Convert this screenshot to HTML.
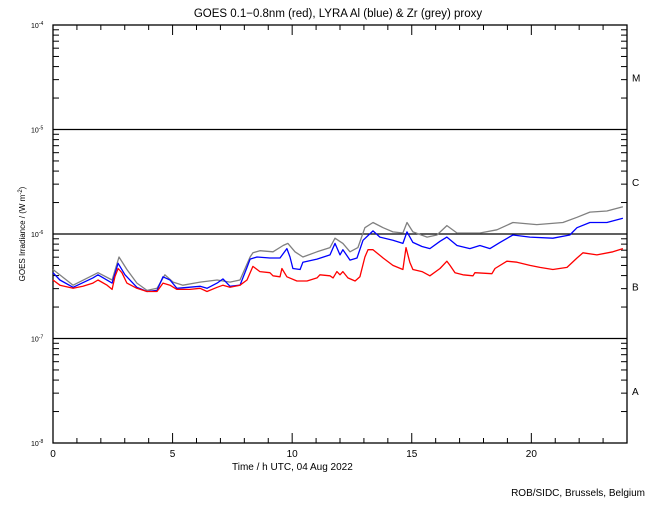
<!DOCTYPE html>
<html><head><meta charset="utf-8"><style>
body{margin:0;background:#fff}
svg text{font-family:"Liberation Sans",sans-serif;fill:#000}
</style></head><body>
<svg id="chart" width="650" height="500" xmlns="http://www.w3.org/2000/svg">
<text x="338" y="17" font-size="11.5" text-anchor="middle">GOES 0.1−0.8nm (red), LYRA Al (blue) &amp; Zr (grey) proxy</text>
<g id="axes"></g>
<g id="series"></g>
<text x="232" y="470" font-size="10">Time / h UTC, 04 Aug 2022</text>
<text transform="translate(25,234) rotate(-90)" font-size="8" text-anchor="middle">GOES Irradiance / (W m<tspan baseline-shift="super" font-size="6">-2</tspan>)</text>
<text x="645" y="496" font-size="10" text-anchor="end">ROB/SIDC, Brussels, Belgium</text>
</svg>
<script>
const xTicks=[0,5,10,15,20];
const yDecades=[-8,-7,-6,-5,-4];
const classLabels=["A","B","C","M"];
const redT=[0,0.29,0.84,1.25,1.67,1.88,2.26,2.47,2.59,2.72,2.88,3.09,3.51,3.93,4.35,4.60,4.89,5.18,5.73,6.15,6.44,6.86,7.11,7.40,7.82,8.11,8.36,8.65,9.07,9.20,9.49,9.57,9.78,10.20,10.62,11.04,11.16,11.58,11.71,11.87,12.00,12.12,12.33,12.63,12.83,13.04,13.17,13.38,13.80,14.21,14.63,14.76,14.92,15.05,15.43,15.76,16.18,16.47,16.60,16.81,17.14,17.56,17.64,18.35,18.48,18.98,19.40,19.94,20.36,20.90,21.49,21.91,22.16,22.74,23.41,23.83];
const redV=[-6.44,-6.49,-6.52,-6.50,-6.47,-6.44,-6.49,-6.53,-6.41,-6.33,-6.37,-6.47,-6.52,-6.55,-6.55,-6.47,-6.49,-6.53,-6.53,-6.52,-6.55,-6.51,-6.49,-6.51,-6.49,-6.44,-6.31,-6.36,-6.37,-6.40,-6.41,-6.33,-6.41,-6.45,-6.45,-6.42,-6.39,-6.40,-6.42,-6.36,-6.39,-6.36,-6.42,-6.45,-6.41,-6.22,-6.15,-6.15,-6.23,-6.30,-6.34,-6.13,-6.27,-6.34,-6.36,-6.40,-6.33,-6.26,-6.30,-6.37,-6.39,-6.40,-6.37,-6.38,-6.33,-6.26,-6.27,-6.30,-6.32,-6.34,-6.32,-6.23,-6.18,-6.20,-6.17,-6.14];
const blueT=[0,0.29,0.84,1.67,1.88,2.47,2.72,3.01,3.51,3.93,4.35,4.60,4.89,5.18,6.15,6.44,6.86,7.11,7.40,7.82,8.11,8.24,8.53,9.07,9.49,9.78,9.91,10.03,10.33,10.45,11.04,11.58,11.79,12.00,12.12,12.42,12.71,12.96,13.38,13.67,14.21,14.63,14.80,15.05,15.43,15.76,16.18,16.47,16.89,17.43,17.85,18.27,18.69,19.23,19.94,20.90,21.61,21.91,22.45,23.16,23.83];
const blueV=[-6.37,-6.44,-6.51,-6.42,-6.39,-6.47,-6.28,-6.39,-6.51,-6.55,-6.54,-6.41,-6.44,-6.52,-6.50,-6.52,-6.47,-6.43,-6.50,-6.49,-6.32,-6.24,-6.22,-6.23,-6.23,-6.14,-6.22,-6.33,-6.34,-6.27,-6.24,-6.20,-6.09,-6.20,-6.15,-6.25,-6.23,-6.06,-5.97,-6.03,-6.06,-6.09,-5.98,-6.08,-6.12,-6.14,-6.07,-6.03,-6.11,-6.14,-6.11,-6.14,-6.08,-6.01,-6.03,-6.04,-6.01,-5.94,-5.89,-5.89,-5.85];
const greyT=[0,0.84,1.88,2.47,2.76,3.09,3.51,3.93,4.35,4.68,5.02,5.43,6.15,6.86,7.40,7.82,8.24,8.36,8.65,9.20,9.62,9.82,10.12,10.45,11.04,11.58,11.79,12.12,12.42,12.75,13.04,13.38,13.80,14.21,14.63,14.80,15.05,15.64,16.05,16.47,16.89,17.85,18.56,19.23,20.23,21.32,21.91,22.45,23.16,23.83];
const greyV=[-6.34,-6.49,-6.37,-6.44,-6.22,-6.34,-6.47,-6.54,-6.52,-6.39,-6.46,-6.49,-6.46,-6.44,-6.46,-6.44,-6.22,-6.18,-6.16,-6.17,-6.11,-6.09,-6.17,-6.22,-6.17,-6.13,-6.04,-6.09,-6.17,-6.13,-5.94,-5.89,-5.94,-5.98,-5.99,-5.89,-5.98,-6.03,-6.01,-5.92,-5.99,-5.99,-5.96,-5.89,-5.91,-5.89,-5.84,-5.79,-5.78,-5.74];

const X0=53,X1=627,Y4=25,Y8=443;
const xs=h=>X0+(X1-X0)*h/24;
const ys=l=>Y4+(Y8-Y4)*(-4-l)/4;
const NS="http://www.w3.org/2000/svg";
function mk(tag,attrs,parent){const e=document.createElementNS(NS,tag);for(const k in attrs)e.setAttribute(k,attrs[k]);parent.appendChild(e);return e;}
const ax=document.getElementById('axes');
const frame=mk('rect',{x:X0,y:Y4,width:X1-X0,height:Y8-Y4,fill:'none',stroke:'#000','stroke-width':1.3},ax);


for(let h=0;h<=24;h++){
  const len=(h%5===0)?10:5;
  const x=xs(h);
  const t1=mk('line',{x1:x,x2:x,y1:Y8,y2:Y8-len,stroke:'#000'},ax);
  
  
  const t2=mk('line',{x1:x,x2:x,y1:Y4,y2:Y4+len,stroke:'#000'},ax);
  
  
}
xTicks.forEach(h=>{
  const t=mk('text',{x:xs(h),y:457,'font-size':10,'text-anchor':'middle'},ax);
  t.textContent=h;
  
  
});
yDecades.forEach((d,i)=>{
  const y=ys(d);
  const lab=mk('text',{x:31,y:y+3,'font-size':7},ax);
  lab.innerHTML='10<tspan baseline-shift="super" font-size="5">'+d+'</tspan>';
  
  
  if(d>-8&&d<-4){
    const gl=mk('line',{x1:X0,x2:X1,y1:y,y2:y,stroke:'#000','stroke-width':1.3},ax);
    
    
  }
  if(d<-4){
    for(let m=2;m<=9;m++){
      const yy=ys(d+Math.log10(m));
      const a=mk('line',{x1:X0,x2:X0+6,y1:yy,y2:yy,stroke:'#000'},ax);
      
      
      const b=mk('line',{x1:X1,x2:X1-6,y1:yy,y2:yy,stroke:'#000'},ax);
      
      
    }
  }
});
classLabels.forEach((c,i)=>{
  const y=ys(-8+i+0.5);
  const t=mk('text',{x:632,y:y+4,'font-size':10},ax);
  t.textContent=c;
  
  
});
const sg=document.getElementById('series');
function draw(T,V,color,name){
  const pts=T.map((t,i)=>xs(t).toFixed(1)+','+ys(V[i]).toFixed(1)).join(' ');
  const p=mk('polyline',{points:pts,fill:'none',stroke:color,'stroke-width':1.3,'stroke-linejoin':'round'},sg);
  
  
}
draw(greyT,greyV,'#808080','zr-proxy-series');
draw(blueT,blueV,'#0000ff','al-proxy-series');
draw(redT,redV,'#ff0000','goes-series');
</script>
</body></html>
